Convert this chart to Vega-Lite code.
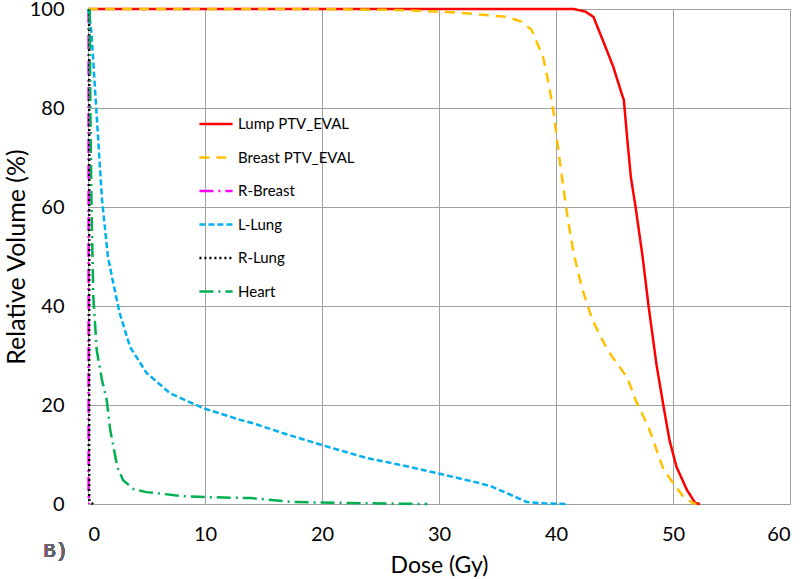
{
  "$schema": "https://vega.github.io/schema/vega-lite/v6.json",
  "autosize": "none",
  "width": 702,
  "height": 495,
  "padding": {"left": 88, "top": 9, "right": 10, "bottom": 75},
  "background": "white",
  "config": {
    "view": {"stroke": null},
    "font": "Lato",
    "axis": {
      "gridColor": "#a0a0a0",
      "gridWidth": 1,
      "domainColor": "#a0a0a0",
      "ticks": false,
      "labelFont": "Lato",
      "titleFont": "Lato",
      "labelFontSize": 20,
      "labelColor": "#000",
      "titleColor": "#000",
      "titleFontWeight": "normal"
    }
  },
  "data": {
    "values": [
      {"s": "Lump PTV_EVAL", "o": 0, "x": 0, "y": 100},
      {"s": "Lump PTV_EVAL", "o": 1, "x": 41.5, "y": 100},
      {"s": "Lump PTV_EVAL", "o": 2, "x": 42.5, "y": 99.5},
      {"s": "Lump PTV_EVAL", "o": 3, "x": 43.2, "y": 98.4},
      {"s": "Lump PTV_EVAL", "o": 4, "x": 44.0, "y": 93.7},
      {"s": "Lump PTV_EVAL", "o": 5, "x": 44.9, "y": 88.3},
      {"s": "Lump PTV_EVAL", "o": 6, "x": 45.6, "y": 83},
      {"s": "Lump PTV_EVAL", "o": 7, "x": 45.8, "y": 81.6},
      {"s": "Lump PTV_EVAL", "o": 8, "x": 46.1, "y": 73.5},
      {"s": "Lump PTV_EVAL", "o": 9, "x": 46.4, "y": 66},
      {"s": "Lump PTV_EVAL", "o": 10, "x": 46.8, "y": 60},
      {"s": "Lump PTV_EVAL", "o": 11, "x": 47.4, "y": 50},
      {"s": "Lump PTV_EVAL", "o": 12, "x": 47.9, "y": 40.2},
      {"s": "Lump PTV_EVAL", "o": 13, "x": 48.6, "y": 28},
      {"s": "Lump PTV_EVAL", "o": 14, "x": 49.2, "y": 19.6},
      {"s": "Lump PTV_EVAL", "o": 15, "x": 49.7, "y": 12.9},
      {"s": "Lump PTV_EVAL", "o": 16, "x": 50.3, "y": 7.5},
      {"s": "Lump PTV_EVAL", "o": 17, "x": 51.2, "y": 2.8},
      {"s": "Lump PTV_EVAL", "o": 18, "x": 51.9, "y": 0.2},
      {"s": "Lump PTV_EVAL", "o": 19, "x": 52.3, "y": 0},

      {"s": "Breast PTV_EVAL", "o": 0, "x": 0, "y": 100},
      {"s": "Breast PTV_EVAL", "o": 1, "x": 20, "y": 100},
      {"s": "Breast PTV_EVAL", "o": 2, "x": 26.4, "y": 99.8},
      {"s": "Breast PTV_EVAL", "o": 3, "x": 28.6, "y": 99.6},
      {"s": "Breast PTV_EVAL", "o": 4, "x": 30.7, "y": 99.4},
      {"s": "Breast PTV_EVAL", "o": 5, "x": 33, "y": 99},
      {"s": "Breast PTV_EVAL", "o": 6, "x": 35.8, "y": 98.4},
      {"s": "Breast PTV_EVAL", "o": 7, "x": 37, "y": 97.5},
      {"s": "Breast PTV_EVAL", "o": 8, "x": 37.9, "y": 95.8},
      {"s": "Breast PTV_EVAL", "o": 9, "x": 38.9, "y": 90.3},
      {"s": "Breast PTV_EVAL", "o": 10, "x": 39.4, "y": 84.6},
      {"s": "Breast PTV_EVAL", "o": 11, "x": 39.8, "y": 79},
      {"s": "Breast PTV_EVAL", "o": 12, "x": 40.2, "y": 71.5},
      {"s": "Breast PTV_EVAL", "o": 13, "x": 40.6, "y": 64.4},
      {"s": "Breast PTV_EVAL", "o": 14, "x": 41.0, "y": 57.8},
      {"s": "Breast PTV_EVAL", "o": 15, "x": 41.5, "y": 50.7},
      {"s": "Breast PTV_EVAL", "o": 16, "x": 42.2, "y": 43.8},
      {"s": "Breast PTV_EVAL", "o": 17, "x": 43.1, "y": 37.2},
      {"s": "Breast PTV_EVAL", "o": 18, "x": 44.4, "y": 31.1},
      {"s": "Breast PTV_EVAL", "o": 19, "x": 46.1, "y": 25.5},
      {"s": "Breast PTV_EVAL", "o": 20, "x": 46.8, "y": 21},
      {"s": "Breast PTV_EVAL", "o": 21, "x": 47.9, "y": 15.6},
      {"s": "Breast PTV_EVAL", "o": 22, "x": 49.2, "y": 6.9},
      {"s": "Breast PTV_EVAL", "o": 23, "x": 50.9, "y": 1.4},
      {"s": "Breast PTV_EVAL", "o": 24, "x": 51.7, "y": 0.2},
      {"s": "Breast PTV_EVAL", "o": 25, "x": 52, "y": 0},

      {"s": "R-Breast", "o": 0, "x": 0.05, "y": 100},
      {"s": "R-Breast", "o": 1, "x": 0.05, "y": 2},
      {"s": "R-Breast", "o": 2, "x": 0.1, "y": 0},

      {"s": "L-Lung", "o": 0, "x": 0, "y": 100},
      {"s": "L-Lung", "o": 1, "x": 0.1, "y": 99},
      {"s": "L-Lung", "o": 2, "x": 0.3, "y": 95},
      {"s": "L-Lung", "o": 3, "x": 0.7, "y": 80},
      {"s": "L-Lung", "o": 4, "x": 1.2, "y": 61.4},
      {"s": "L-Lung", "o": 5, "x": 1.7, "y": 50},
      {"s": "L-Lung", "o": 6, "x": 2.1, "y": 45.3},
      {"s": "L-Lung", "o": 7, "x": 2.7, "y": 38.6},
      {"s": "L-Lung", "o": 8, "x": 3.6, "y": 31.7},
      {"s": "L-Lung", "o": 9, "x": 5, "y": 26.5},
      {"s": "L-Lung", "o": 10, "x": 7, "y": 22.4},
      {"s": "L-Lung", "o": 11, "x": 9.8, "y": 19.4},
      {"s": "L-Lung", "o": 12, "x": 13, "y": 17},
      {"s": "L-Lung", "o": 13, "x": 14.1, "y": 16.3},
      {"s": "L-Lung", "o": 14, "x": 16.7, "y": 14.3},
      {"s": "L-Lung", "o": 15, "x": 20, "y": 11.9},
      {"s": "L-Lung", "o": 16, "x": 23.8, "y": 9.3},
      {"s": "L-Lung", "o": 17, "x": 26.7, "y": 7.9},
      {"s": "L-Lung", "o": 18, "x": 29.9, "y": 6.2},
      {"s": "L-Lung", "o": 19, "x": 33.5, "y": 4.2},
      {"s": "L-Lung", "o": 20, "x": 34.5, "y": 3.5},
      {"s": "L-Lung", "o": 21, "x": 35.8, "y": 2.2},
      {"s": "L-Lung", "o": 22, "x": 37.5, "y": 0.4},
      {"s": "L-Lung", "o": 23, "x": 39.2, "y": 0.1},
      {"s": "L-Lung", "o": 24, "x": 40.8, "y": 0},

      {"s": "R-Lung", "o": 0, "x": 0.1, "y": 100},
      {"s": "R-Lung", "o": 1, "x": 0.1, "y": 1},
      {"s": "R-Lung", "o": 2, "x": 0.2, "y": 0.3},
      {"s": "R-Lung", "o": 3, "x": 0.45, "y": 0},

      {"s": "Heart", "o": 0, "x": 0.15, "y": 100},
      {"s": "Heart", "o": 1, "x": 0.2, "y": 80},
      {"s": "Heart", "o": 2, "x": 0.3, "y": 60},
      {"s": "Heart", "o": 3, "x": 0.45, "y": 42},
      {"s": "Heart", "o": 4, "x": 0.75, "y": 31},
      {"s": "Heart", "o": 5, "x": 1.2, "y": 25},
      {"s": "Heart", "o": 6, "x": 1.6, "y": 21},
      {"s": "Heart", "o": 7, "x": 1.9, "y": 15},
      {"s": "Heart", "o": 8, "x": 2.5, "y": 7.5},
      {"s": "Heart", "o": 9, "x": 3.0, "y": 4.8},
      {"s": "Heart", "o": 10, "x": 3.9, "y": 3},
      {"s": "Heart", "o": 11, "x": 5, "y": 2.4},
      {"s": "Heart", "o": 12, "x": 8.1, "y": 1.6},
      {"s": "Heart", "o": 13, "x": 10, "y": 1.4},
      {"s": "Heart", "o": 14, "x": 13.9, "y": 1.2},
      {"s": "Heart", "o": 15, "x": 17.5, "y": 0.4},
      {"s": "Heart", "o": 16, "x": 22.4, "y": 0.2},
      {"s": "Heart", "o": 17, "x": 29, "y": 0}
    ]
  },
  "layer": [
    {
      "mark": {"type": "line", "strokeWidth": 2.5, "clip": false},
      "encoding": {
        "x": {
          "field": "x", "type": "quantitative",
          "scale": {"domain": [0, 60], "nice": false, "zero": true},
          "axis": {"values": [0, 10, 20, 30, 40, 50, 60], "title": "Dose (Gy)", "titleFontSize": 23, "labelPadding": 20, "titlePadding": 10, "grid": true}
        },
        "y": {
          "field": "y", "type": "quantitative",
          "scale": {"domain": [0, 100], "nice": false},
          "axis": {"values": [0, 20, 40, 60, 80, 100], "title": "Relative Volume (%)", "titleFontSize": 25, "labelPadding": 24, "titlePadding": 0, "grid": true}
        },
        "order": {"field": "o", "type": "quantitative"},
        "color": {
          "field": "s", "type": "nominal",
          "scale": {
            "domain": ["Lump PTV_EVAL", "Breast PTV_EVAL", "R-Breast", "L-Lung", "R-Lung", "Heart"],
            "range": ["#ff0000", "#ffc000", "#ff00ff", "#00b0f0", "#000000", "#00b050"]
          },
          "legend": {
            "title": null,
            "orient": "none",
            "legendX": 110,
            "legendY": 97,
            "symbolType": "stroke",
            "symbolSize": 1100,
            "symbolStrokeWidth": 2.5,
            "labelFont": "Lato",
            "labelFontSize": 15,
            "labelColor": "#000",
            "rowPadding": 7.5,
            "labelOffset": 4,
            "padding": 0
          }
        },
        "strokeDash": {
          "field": "s", "type": "nominal",
          "scale": {
            "domain": ["Lump PTV_EVAL", "Breast PTV_EVAL", "R-Breast", "L-Lung", "R-Lung", "Heart"],
            "range": [[1, 0], [10, 7], [14, 5, 2, 5], [6, 3], [2, 3], [14, 5, 2, 5]]
          },
          "legend": null
        }
      }
    },
    {
      "mark": {"type": "text", "text": "B)", "font": "Liberation Mono", "fontSize": 20, "fontWeight": "normal", "align": "left", "baseline": "middle", "color": "#666"},
      "encoding": {
        "x": {"datum": -3.8, "type": "quantitative"},
        "y": {"datum": -9.5, "type": "quantitative"}
      }
    }
  ]
}
